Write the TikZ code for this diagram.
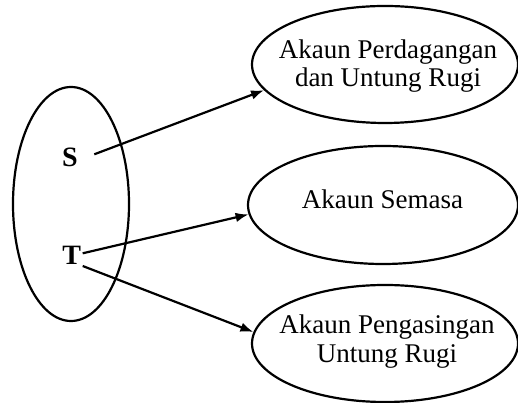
\documentclass[tikz,border=0pt]{standalone}
\usepackage{fontspec}
\setmainfont{Liberation Serif}
\usetikzlibrary{arrows.meta,shapes.geometric}
\begin{document}
\begin{tikzpicture}[x=1pt,y=1pt,
  oval/.style={draw,ellipse,line width=2.2pt,inner sep=0pt},
  lbl/.style={align=center,inner sep=0pt,font=\fontsize{27}{28.4}\selectfont},
  letter/.style={inner sep=0pt,font=\fontsize{28}{28.4}\selectfont\bfseries},
  arr/.style={line width=2.2pt,-{Latex[length=13pt,width=9.5pt]}}]
\useasboundingbox (0,0) rectangle (518,403);
% left ellipse
\node[oval,minimum width=116pt,minimum height=234pt] (grp) at (71,199) {};
\node[letter] (S) at (70,246) {S};
\node[letter] (T) at (71.7,147.5) {T};
% right ellipses
\node[oval,minimum width=266pt,minimum height=117pt] (pu) at (385,338.5) {};
\node[oval,minimum width=270pt,minimum height=118pt] (sm) at (383,198) {};
\node[oval,minimum width=266pt,minimum height=117pt] (pg) at (385,59.5) {};
\node[lbl] (pul) at (388,336.75) {Akaun Perdagangan\\dan Untung Rugi};
\node[lbl] (sml) at (382.5,203.9) {Akaun Semasa};
\node[lbl] (pgl) at (387,61.4) {Akaun Pengasingan\\Untung Rugi};
% arrows
\draw[arr] ([shift={(24.3,2.7)}]S.center) -- (pu.192.4);
\draw[arr] ([shift={(11,2.2)}]T.center) -- (sm.184.5);
\draw[arr] ([shift={(11,-10.5)}]T.center) -- (pg.175.6);
\end{tikzpicture}
\end{document}
